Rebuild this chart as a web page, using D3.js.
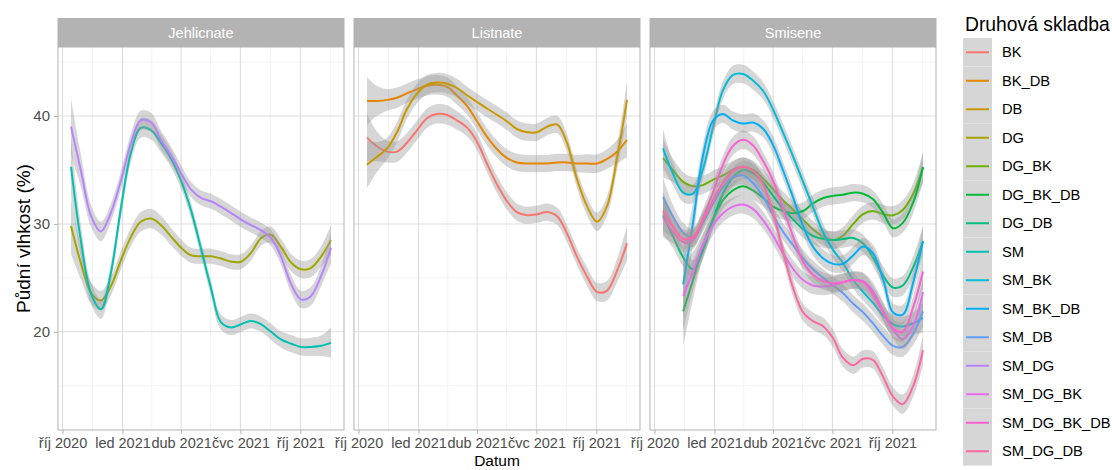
<!DOCTYPE html>
<html>
<head>
<meta charset="utf-8">
<script src="https://cdn.jsdelivr.net/npm/d3@7"></script>
<style>
  body { margin: 0; background: #fff; }
  text { font-family: "Liberation Sans", Arial, sans-serif; }
</style>
</head>
<body>
<svg id="chart" width="1112" height="470"></svg>
<script>
// sampling dates of the smoothed curves
var sampleDates = ["2020-10-14","2020-10-29","2020-11-14","2020-11-29","2020-12-14","2020-12-30",
  "2021-01-14","2021-01-29","2021-02-14","2021-03-01","2021-03-17","2021-04-01","2021-04-16",
  "2021-05-02","2021-05-17","2021-06-01","2021-06-17","2021-07-02","2021-07-17","2021-08-02",
  "2021-08-17","2021-09-01","2021-09-17","2021-10-02","2021-10-17","2021-11-02","2021-11-17"];

var panelNames = ["Jehlicnate", "Listnate", "Smisene"];

var seriesNames = ["BK","BK_DB","DB","DG","DG_BK","DG_BK_DB","DG_DB","SM","SM_BK","SM_BK_DB",
  "SM_DB","SM_DG","SM_DG_BK","SM_DG_BK_DB","SM_DG_DB"];
var seriesColors = ["#F8766D","#E58700","#C99800","#A3A500","#6BB100","#00BA38","#00BF7D","#00C0AF",
  "#00BCD8","#00B0F6","#619CFF","#B983FF","#E76BF3","#FD61D1","#FF67A4"];
var seriesPanel = ["Listnate","Listnate","Listnate","Jehlicnate","Smisene","Smisene","Smisene","Jehlicnate",
  "Smisene","Smisene","Smisene","Jehlicnate","Smisene","Smisene","Smisene"];

// Jehlicnate
var DG    = [29.8,26.4,23.6,22.9,24.2,26.7,28.8,30.2,30.5,29.9,28.8,27.8,27.1,27.0,27.0,26.8,26.5,26.5,27.3,28.7,29.0,27.9,26.4,25.8,25.9,27.0,28.5];
var SM    = [35.3,28.5,23.5,22.1,25.4,31.6,36.6,38.9,38.7,37.5,36.0,34.0,31.3,27.6,24.0,20.9,20.4,20.7,21.0,20.7,20.0,19.3,18.9,18.6,18.6,18.7,19.0];
var SM_DG = [39.0,35.0,30.7,29.3,31.0,34.1,37.5,39.6,39.4,37.8,36.3,34.7,33.2,32.4,32.1,31.6,31.0,30.4,29.9,29.4,28.7,27.0,24.4,23.0,23.3,25.2,27.8];

// Listnate
var BK    = [38.0,37.2,36.7,36.7,37.5,38.7,39.8,40.2,40.1,39.6,38.9,37.6,35.6,33.6,32.1,31.1,30.8,30.9,31.1,30.7,29.1,27.0,25.1,23.7,23.8,25.7,28.2];
var BK_DB = [41.4,41.4,41.5,41.7,42.1,42.5,42.8,42.9,42.7,41.9,40.9,39.5,38.1,36.9,36.1,35.7,35.6,35.6,35.6,35.7,35.7,35.6,35.6,35.6,36.0,36.7,37.8];
var DB    = [35.5,36.2,37.0,38.5,40.6,42.1,42.9,43.1,43.0,42.6,41.9,41.3,40.7,40.1,39.5,38.8,38.5,38.5,39.0,39.2,37.5,34.2,31.6,30.2,31.6,36.2,41.5];

// Smisene
var DG_BK       = [36.1,35.0,33.9,33.5,33.6,34.1,34.5,35.0,35.3,35.0,34.2,33.2,32.2,31.3,30.4,29.5,28.8,28.5,28.9,30.0,30.9,31.2,30.9,30.8,31.3,32.8,35.2];
var DG_BK_DB    = [null,null,21.9,24.8,27.9,30.4,32.2,33.1,33.5,33.1,32.4,31.6,31.2,31.0,31.2,31.9,32.4,32.6,32.7,32.9,32.8,32.3,31.0,29.6,30.1,32.0,35.3];
var DG_DB       = [30.8,28.9,26.9,25.8,27.5,30.5,32.8,34.3,35.0,34.7,33.8,32.6,31.4,30.4,29.5,28.9,28.6,28.5,28.6,28.7,28.2,26.9,25.2,24.1,24.3,26.0,28.4];
var SM_BK       = [37.0,34.7,32.9,32.8,35.0,39.0,42.4,43.8,43.9,43.3,42.3,40.6,38.5,36.2,33.9,31.6,29.2,27.6,26.4,24.8,23.7,22.7,21.5,20.7,20.5,20.8,21.3];
var SM_BK_DB    = [null,null,24.4,30.1,36.2,39.6,40.2,39.6,39.3,39.4,38.8,37.3,35.0,32.4,29.8,27.9,26.8,26.3,26.3,27.1,27.9,27.3,24.8,21.8,21.6,24.6,28.4];
var SM_DB       = [32.5,30.7,29.2,28.7,30.1,31.9,33.4,34.3,34.5,33.8,32.5,30.8,29.3,28.0,26.8,25.8,25.0,24.3,23.6,22.6,21.8,20.8,19.6,18.7,18.6,19.8,21.9];
var SM_DG_BK    = [null,null,23.3,25.6,28.0,29.9,31.0,31.6,31.8,31.4,30.3,28.9,27.3,25.8,24.8,24.3,24.2,24.3,24.6,24.8,24.7,23.8,21.9,20.2,19.3,20.6,23.7];
var SM_DG_BK_DB = [30.6,29.3,28.3,28.5,30.5,33.0,35.5,37.2,37.8,37.3,35.8,34.0,31.5,28.8,26.5,25.3,24.7,24.5,24.6,24.8,24.6,23.5,21.8,20.3,20.0,22.3,25.6];
var SM_DG_DB    = [31.2,29.8,28.6,28.8,30.3,32.2,33.8,34.9,35.3,34.9,33.6,31.0,27.5,24.0,21.8,21.0,20.5,19.4,17.6,16.9,17.5,17.4,15.8,14.0,13.3,15.0,18.3];

// standard error half-widths of the smooths
var seJehl     = [2.6,1.5,1.0,0.9,0.85,0.85,0.85,0.9,0.9,0.85,0.8,0.75,0.7,0.7,0.7,0.7,0.7,0.7,0.7,0.7,0.75,0.75,0.8,0.8,0.85,0.95,1.4];
var seList     = [2.2,1.4,1.0,0.95,0.9,0.9,0.9,0.9,0.9,0.85,0.8,0.8,0.8,0.8,0.8,0.8,0.8,0.8,0.8,0.8,0.8,0.8,0.85,0.85,0.9,1.1,1.6];
var seSmis     = [1.8,1.1,0.9,0.85,0.85,0.85,0.85,0.85,0.85,0.85,0.8,0.8,0.8,0.8,0.8,0.8,0.8,0.8,0.8,0.8,0.8,0.8,0.85,0.85,0.9,1.0,1.4];
var seSmisLate = [null,null,3.2,1.8,1.1,0.9,0.85,0.85,0.85,0.85,0.8,0.8,0.8,0.8,0.8,0.8,0.8,0.8,0.8,0.8,0.8,0.8,0.85,0.85,0.9,1.0,1.4];

var seriesValues = {BK: BK, BK_DB: BK_DB, DB: DB, DG: DG, DG_BK: DG_BK, DG_BK_DB: DG_BK_DB, DG_DB: DG_DB,
  SM: SM, SM_BK: SM_BK, SM_BK_DB: SM_BK_DB, SM_DB: SM_DB, SM_DG: SM_DG, SM_DG_BK: SM_DG_BK,
  SM_DG_BK_DB: SM_DG_BK_DB, SM_DG_DB: SM_DG_DB};
var seriesSe = {BK: seList, BK_DB: seList, DB: seList, DG: seJehl, DG_BK: seSmis, DG_BK_DB: seSmisLate,
  DG_DB: seSmis, SM: seJehl, SM_BK: seSmis, SM_BK_DB: seSmisLate, SM_DB: seSmis, SM_DG: seJehl,
  SM_DG_BK: seSmisLate, SM_DG_BK_DB: seSmis, SM_DG_DB: seSmis};

var yTicks = [20, 30, 40];
var yMinor = [15, 25, 35, 45];
var xTickDates = ["2020-10-01","2021-01-01","2021-04-01","2021-07-01","2021-10-01"];
var xTickLabels = ["říj 2020","led 2021","dub 2021","čvc 2021","říj 2021"];
var xMinorDates = ["2020-11-16","2021-02-15","2021-05-16","2021-08-16","2021-11-16"];

var parse = d3.utcParse("%Y-%m-%d");
var dates = sampleDates.map(parse);

// layout
var panelLeft = 58, panelGap = 10, panelW = 286;
var stripTop = 18, plotTop = 47, plotBottom = 430;
var panelH = plotBottom - plotTop;
var font = "Liberation Sans, Arial, sans-serif";

var svg = d3.select("#chart");

// x scale with ggplot-like 5% expansion
var ext = d3.extent(dates);
var pad = (ext[1] - ext[0]) * 0.05;
var x = d3.scaleUtc()
    .domain([new Date(+ext[0] - pad), new Date(+ext[1] + pad)])
    .range([0, panelW]);
var y = d3.scaleLinear().domain([10.9, 46.4]).range([panelH, 0]);

var line = d3.line()
    .defined(function(d) { return d.v != null; })
    .x(function(d) { return x(d.date); })
    .y(function(d) { return y(d.v); })
    .curve(d3.curveCatmullRom.alpha(0.5));
var band = d3.area()
    .defined(function(d) { return d.v != null; })
    .x(function(d) { return x(d.date); })
    .y0(function(d) { return y(d.v - d.se); })
    .y1(function(d) { return y(d.v + d.se); })
    .curve(d3.curveCatmullRom.alpha(0.5));

panelNames.forEach(function(pn, pi) {
  var g = svg.append("g")
      .attr("transform", "translate(" + (panelLeft + pi * (panelW + panelGap)) + "," + plotTop + ")");

  g.append("rect").attr("width", panelW).attr("height", panelH).attr("fill", "#fff");

  // grid
  g.selectAll(".ymin").data(yMinor).enter().append("line")
      .attr("x1", 0).attr("x2", panelW)
      .attr("y1", function(d) { return y(d); }).attr("y2", function(d) { return y(d); })
      .attr("stroke", "#ebebeb").attr("stroke-width", 0.6);
  g.selectAll(".xmin").data(xMinorDates.map(parse)).enter().append("line")
      .attr("y1", 0).attr("y2", panelH)
      .attr("x1", function(d) { return x(d); }).attr("x2", function(d) { return x(d); })
      .attr("stroke", "#ebebeb").attr("stroke-width", 0.6);
  g.selectAll(".ymaj").data(yTicks).enter().append("line")
      .attr("x1", 0).attr("x2", panelW)
      .attr("y1", function(d) { return y(d); }).attr("y2", function(d) { return y(d); })
      .attr("stroke", "#dedede").attr("stroke-width", 1.1);
  g.selectAll(".xmaj").data(xTickDates.map(parse)).enter().append("line")
      .attr("y1", 0).attr("y2", panelH)
      .attr("x1", function(d) { return x(d); }).attr("x2", function(d) { return x(d); })
      .attr("stroke", "#dedede").attr("stroke-width", 1.1);

  // smooths: ribbon then line, per series
  seriesNames.forEach(function(sn, si) {
    if (seriesPanel[si] !== pn) return;
    var vals = seriesValues[sn], se = seriesSe[sn];
    var pts = dates.map(function(d, i) { return {date: d, v: vals[i], se: se[i]}; });
    g.append("path").datum(pts).attr("d", band)
        .attr("fill", "#999999").attr("fill-opacity", 0.4);
    g.append("path").datum(pts).attr("d", line)
        .attr("fill", "none").attr("stroke", seriesColors[si]).attr("stroke-width", 2);
  });

  g.append("rect").attr("width", panelW).attr("height", panelH)
      .attr("fill", "none").attr("stroke", "#b3b3b3").attr("stroke-width", 1);

  // strip
  g.append("rect").attr("x", -0.5).attr("y", stripTop - plotTop)
      .attr("width", panelW + 1).attr("height", plotTop - stripTop)
      .attr("fill", "#b3b3b3");
  g.append("text").attr("x", panelW / 2).attr("y", (stripTop - plotTop) / 2)
      .attr("dy", "0.35em").attr("text-anchor", "middle")
      .attr("fill", "#fff").attr("font-size", 14.5).text(pn);

  // x axis
  var xa = g.append("g").attr("transform", "translate(0," + panelH + ")")
      .call(d3.axisBottom(x).tickValues(xTickDates.map(parse))
        .tickFormat(function(d, i) { return xTickLabels[i]; })
        .tickSize(4).tickPadding(4));
  xa.select(".domain").remove();
  xa.selectAll("line").attr("stroke", "#b3b3b3");
  xa.selectAll("text").attr("fill", "#4d4d4d").attr("font-size", 14.5).attr("font-family", font);

  if (pi === 0) {
    var ya = g.append("g").call(d3.axisLeft(y).tickValues(yTicks).tickSize(4).tickPadding(4));
    ya.select(".domain").remove();
    ya.selectAll("line").attr("stroke", "#b3b3b3");
    ya.selectAll("text").attr("fill", "#4d4d4d").attr("font-size", 15).attr("font-family", font);
  }
});

// axis titles
var midX = panelLeft + (3 * panelW + 2 * panelGap) / 2;
svg.append("text").attr("x", midX).attr("y", 466).attr("text-anchor", "middle")
    .attr("font-size", 15.5).attr("fill", "#000").text("Datum");
svg.append("text").attr("transform", "translate(30," + (plotTop + panelH / 2) + ") rotate(-90)")
    .attr("text-anchor", "middle").attr("font-size", 19).attr("fill", "#000")
    .text("Půdní vlhkost (%)");

// legend
var lg = svg.append("g");
lg.append("text").attr("x", 965).attr("y", 31).attr("font-size", 19.3).attr("fill", "#000")
    .text("Druhová skladba");
var keyH = 28.5, keyTop = 38;
seriesNames.forEach(function(sn, i) {
  var ky = keyTop + i * keyH;
  lg.append("rect").attr("x", 963).attr("y", ky).attr("width", 29).attr("height", keyH)
      .attr("fill", "#d6d6d6");
  lg.append("line").attr("x1", 966).attr("x2", 989)
      .attr("y1", ky + keyH / 2).attr("y2", ky + keyH / 2)
      .attr("stroke", seriesColors[i]).attr("stroke-width", 2);
  lg.append("text").attr("x", 1002).attr("y", ky + keyH / 2).attr("dy", "0.35em")
      .attr("font-size", 14.7).attr("fill", "#000").text(sn);
});
</script>
</body>
</html>
